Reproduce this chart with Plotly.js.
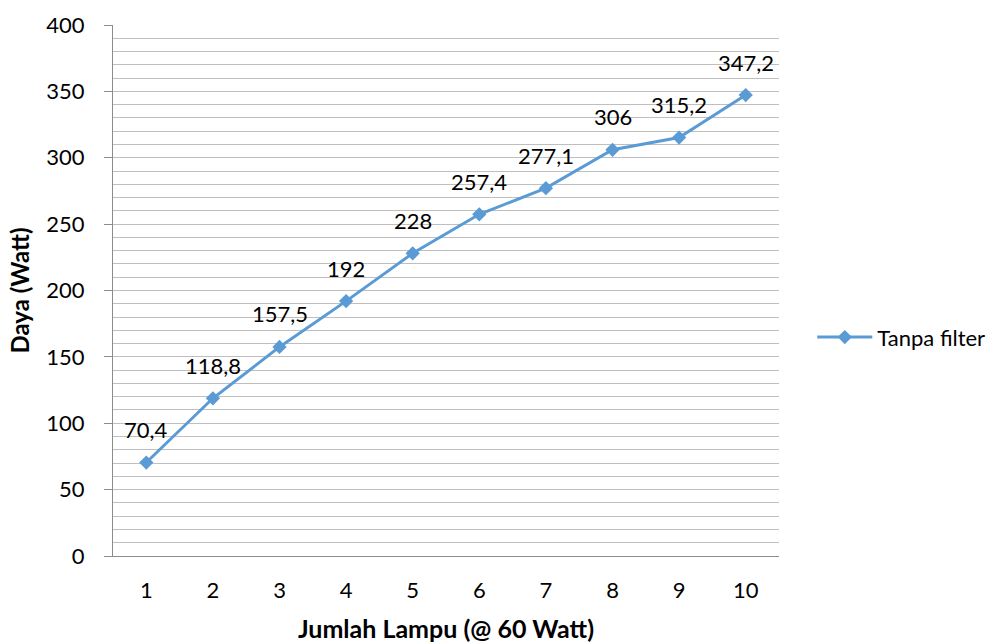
<!DOCTYPE html>
<html>
<head>
<meta charset="utf-8">
<script src="https://cdn.plot.ly/plotly-3.0.1.min.js"></script>
<style>
  html, body { margin: 0; padding: 0; background: #fff; }
  #chart { width: 1007px; height: 643px; }
</style>
</head>
<body>
<div id="chart"></div>
<script>
// Number of lamps (60 W each) and measured power without filter
const lampCount = [1, 2, 3, 4, 5, 6, 7, 8, 9, 10];
const powerNoFilter = [70.4, 118.8, 157.5, 192, 228, 257.4, 277.1, 306, 315.2, 347.2];
const seriesName = 'Tanpa filter';
const yTickVals = [0, 50, 100, 150, 200, 250, 300, 350, 400];

const FONT = 'Lato, "Open Sans", sans-serif';
const BLUE = '#5B9BD5';

// Decimal comma labels
const fmt = v => String(v).replace('.', ',');

const trace = {
  x: lampCount,
  y: powerNoFilter,
  type: 'scatter',
  mode: 'lines+markers',
  name: seriesName,
  line: { color: BLUE, width: 3 },
  marker: { symbol: 'diamond', size: 11, color: BLUE },
  hoverinfo: 'x+y'
};

const labels = lampCount.map((x, i) => ({
  x: x,
  y: powerNoFilter[i],
  xref: 'x',
  yref: 'y',
  text: fmt(powerNoFilter[i]),
  showarrow: false,
  yshift: 33,
  font: { family: FONT, size: 22, color: '#000' }
}));

const layout = {
  width: 1007,
  height: 643,
  margin: { l: 113, r: 228, t: 25, b: 87 },
  paper_bgcolor: '#fff',
  plot_bgcolor: '#fff',
  font: { family: FONT, size: 22, color: '#000' },
  showlegend: true,
  legend: {
    x: 1.05, y: 0.412, xanchor: 'left', yanchor: 'middle',
    font: { family: FONT, size: 22, color: '#000' },
    itemwidth: 55,
    borderwidth: 0,
    bgcolor: 'rgba(0,0,0,0)'
  },
  xaxis: {
    type: 'linear',
    range: [0.5, 10.5],
    tickvals: lampCount,
    ticktext: lampCount.map(String),
    showgrid: false,
    zeroline: false,
    showline: true,
    linecolor: '#8c8c8c',
    linewidth: 1,
    ticks: '',
    ticklabelstandoff: 15,
    tickfont: { family: FONT, size: 22 },
    title: {
      text: '<b>Jumlah Lampu (@ 60 Watt)</b>',
      font: { family: FONT, size: 25 },
      standoff: 18
    }
  },
  yaxis: {
    range: [0, 400],
    tickvals: yTickVals,
    showgrid: true,
    gridcolor: '#bfbfbf',
    gridwidth: 1,
    minor: { dtick: 10, showgrid: true, gridcolor: '#bfbfbf', gridwidth: 1, ticks: '' },
    zeroline: false,
    showline: true,
    linecolor: '#8c8c8c',
    linewidth: 1,
    ticks: 'outside',
    ticklen: 8,
    tickcolor: '#8c8c8c',
    ticklabelstandoff: 15,
    tickfont: { family: FONT, size: 22 },
    title: {
      text: '<b>Daya (Watt)</b>',
      font: { family: FONT, size: 24 },
      standoff: 9
    }
  },
  annotations: labels
};

Plotly.newPlot('chart', [trace], layout, { displayModeBar: false, staticPlot: true });
</script>
</body>
</html>
